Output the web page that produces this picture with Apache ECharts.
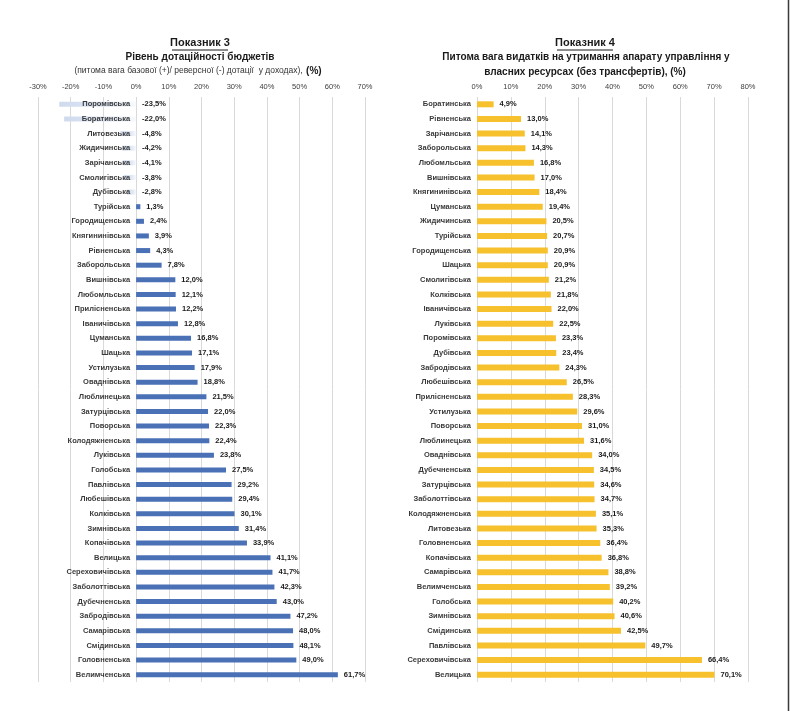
<!DOCTYPE html>
<html>
<head>
<meta charset="utf-8">
<script src="https://cdn.jsdelivr.net/npm/echarts@6/dist/echarts.min.js"></script>
<style>
html,body{margin:0;padding:0;background:#fff;}
#chart{width:790px;height:711px;}
</style>
</head>
<body>
<div id="chart"></div>
<script>
// Показник 3 — Рівень дотаційності бюджетів
var categories3 = ['Поромівська','Боратинська','Литовезька','Жидичинська','Зарічанська','Смолигівська','Дубівська','Турійська','Городищенська','Княгининівська','Рівненська','Заборольська','Вишнівська','Любомльська','Прилісненська','Іваничівська','Цуманська','Шацька','Устилузька','Оваднівська','Люблинецька','Затурцівська','Поворська','Колодяжненська','Луківська','Голобська','Павлівська','Любешівська','Колківська','Зимнівська','Копачівська','Велицька','Сереховичівська','Заболоттівська','Дубечненська','Забродівська','Самарівська','Смідинська','Головненська','Велимченська'];
var values3 = [-23.5,-22.0,-4.8,-4.2,-4.1,-3.8,-2.8,1.3,2.4,3.9,4.3,7.8,12.0,12.1,12.2,12.8,16.8,17.1,17.9,18.8,21.5,22.0,22.3,22.4,23.8,27.5,29.2,29.4,30.1,31.4,33.9,41.1,41.7,42.3,43.0,47.2,48.0,48.1,49.0,61.7];
var ticks3 = {min:-30, max:70, interval:10};

// Показник 4 — Питома вага видатків на утримання апарату управління
var categories4 = ['Боратинська','Рівненська','Зарічанська','Заборольська','Любомльська','Вишнівська','Княгининівська','Цуманська','Жидичинська','Турійська','Городищенська','Шацька','Смолигівська','Колківська','Іваничівська','Луківська','Поромівська','Дубівська','Забродівська','Любешівська','Прилісненська','Устилузька','Поворська','Люблинецька','Оваднівська','Дубечненська','Затурцівська','Заболоттівська','Колодяжненська','Литовезька','Головненська','Копачівська','Самарівська','Велимченська','Голобська','Зимнівська','Смідинська','Павлівська','Сереховичівська','Велицька'];
var values4 = [4.9,13.0,14.1,14.3,16.8,17.0,18.4,19.4,20.5,20.7,20.9,20.9,21.2,21.8,22.0,22.5,23.3,23.4,24.3,26.5,28.3,29.6,31.0,31.6,34.0,34.5,34.6,34.7,35.1,35.3,36.4,36.8,38.8,39.2,40.2,40.6,42.5,49.7,66.4,70.1];
var ticks4 = {min:0, max:80, interval:10};

var FONT = 'Liberation Sans';
var blue = '#4a70b6';
var gold = '#f6c12d';
var negGrad = new echarts.graphic.LinearGradient(0,0,1,0,[{offset:0,color:'#cfdaee'},{offset:0.7,color:'#e3eaf5'},{offset:1,color:'#f8fafd'}]);

function fmt(p){ return p.value.toFixed(1).replace('.', ',') + '%'; }

var W = 790;
var g0 = {left:38, right:425};
var g1 = {left:477, right:42};
// category labels of the left panel sit next to the zero line
var zeroX0 = g0.left + (0 - ticks3.min) / (ticks3.max - ticks3.min) * (W - g0.left - g0.right);
var labelGap = 6;

var chart = echarts.init(document.getElementById('chart'), null, {renderer:'canvas'});

var axisLabelStyle = {fontFamily:FONT, fontSize:7.5, color:'#404040', formatter:'{value}%', margin:6};
function catLabel(margin){
  return {fontFamily:FONT, fontSize:7.5, fontWeight:'bold', color:'#3a3a3a', margin:margin};
}
var valLabel = {show:true, position:'right', distance:6, fontFamily:FONT, fontSize:7.5, fontWeight:'bold', color:'#1a1a1a', formatter:fmt};

var option = {
  animation:false,
  backgroundColor:'#ffffff',
  grid:[
    {left:g0.left, right:g0.right, top:97, bottom:29, containLabel:false, outerBoundsMode:'none'},
    {left:g1.left, right:g1.right, top:97, bottom:29, containLabel:false, outerBoundsMode:'none'}
  ],
  xAxis:[
    {gridIndex:0, type:'value', position:'top', min:ticks3.min, max:ticks3.max, interval:ticks3.interval,
     axisLine:{show:false}, axisTick:{show:false}, axisLabel:axisLabelStyle,
     splitLine:{show:true, lineStyle:{color:'#d9d9d9', width:1}}},
    {gridIndex:1, type:'value', position:'top', min:ticks4.min, max:ticks4.max, interval:ticks4.interval,
     axisLine:{show:false}, axisTick:{show:false}, axisLabel:axisLabelStyle,
     splitLine:{show:true, lineStyle:{color:'#d9d9d9', width:1}}}
  ],
  yAxis:[
    {gridIndex:0, type:'category', inverse:true, data:categories3, position:'left', z:5,
     axisLine:{show:false, onZero:false}, axisTick:{show:false},
     axisLabel:catLabel(labelGap - (zeroX0 - g0.left)), splitLine:{show:false}},
    {gridIndex:1, type:'category', inverse:true, data:categories4, z:5,
     axisLine:{show:false, onZero:false}, axisTick:{show:false}, axisLabel:catLabel(labelGap), splitLine:{show:false}}
  ],
  series:[
    {type:'bar', xAxisIndex:0, yAxisIndex:0, barWidth:5, z:2,
     data: values3.map(function(v){ return v < 0 ? {value:v, itemStyle:{color:negGrad}} : {value:v}; }),
     itemStyle:{color:blue}, label:valLabel},
    {type:'bar', xAxisIndex:1, yAxisIndex:1, barWidth:6, z:2,
     data: values4, itemStyle:{color:gold}, label:valLabel}
  ],
  graphic:[
    {type:'text', x:200, y:43, style:{text:'Показник 3', font:'bold 11px "Liberation Sans"', fill:'#1a1a1a', align:'center', verticalAlign:'middle'}},
    {type:'line', shape:{x1:172, y1:50, x2:228, y2:50}, style:{stroke:'#1a1a1a', lineWidth:1}},
    {type:'text', x:200, y:57, style:{text:'Рівень дотаційності бюджетів', font:'bold 10px "Liberation Sans"', fill:'#1a1a1a', align:'center', verticalAlign:'middle'}},
    {type:'text', x:198, y:71, style:{
      text:'{n|(питома вага базової (+)/ реверсної (-) дотації  у доходах),} {b|(%)}',
      align:'center', verticalAlign:'middle',
      rich:{n:{fontFamily:FONT, fontSize:8.5, fill:'#333'}, b:{fontFamily:FONT, fontSize:10, fontWeight:'bold', fill:'#1a1a1a'}}}},
    {type:'text', x:585, y:43, style:{text:'Показник 4', font:'bold 11px "Liberation Sans"', fill:'#1a1a1a', align:'center', verticalAlign:'middle'}},
    {type:'line', shape:{x1:557, y1:50, x2:613, y2:50}, style:{stroke:'#1a1a1a', lineWidth:1}},
    {type:'text', x:586, y:57, style:{text:'Питома вага видатків на утримання апарату управління у', font:'bold 10px "Liberation Sans"', fill:'#1a1a1a', align:'center', verticalAlign:'middle'}},
    {type:'text', x:585, y:72, style:{text:'власних ресурсах (без трансфертів), (%)', font:'bold 10px "Liberation Sans"', fill:'#1a1a1a', align:'center', verticalAlign:'middle'}},
    {type:'line', shape:{x1:788.5, y1:0, x2:788.5, y2:711}, style:{stroke:'#3a3a3a', lineWidth:1.5}}
  ]
};
chart.setOption(option);
</script>
</body>
</html>
